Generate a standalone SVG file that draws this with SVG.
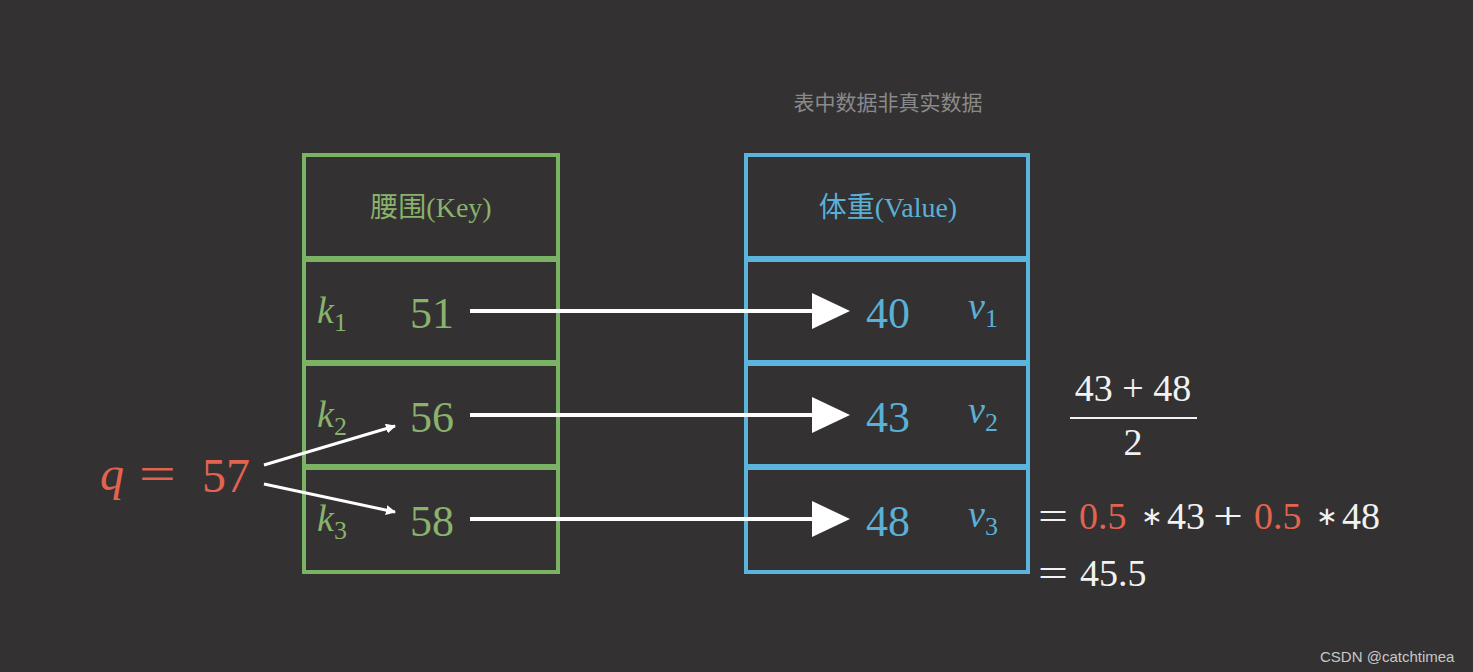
<svg xmlns="http://www.w3.org/2000/svg" width="1473" height="672" viewBox="0 0 1473 672">
<defs>
<style>
.bg{fill:#333132}
.g{fill:none;stroke:#7ab364;stroke-width:4}
.b{fill:none;stroke:#5ab4dc;stroke-width:4}
.t{font-family:"Liberation Serif","Noto Sans CJK SC",serif}
.gt{fill:#8ab26c}
.bt{fill:#5ab0d6}
.w{fill:#f2f2f2}
.r{fill:#e2644f}
.it{font-style:italic}
.big{font-size:44px}
.eq{font-size:38px}
.ast{font-family:"DejaVu Sans",sans-serif;font-size:26px}
.arr{stroke:#ffffff;stroke-width:4;fill:none}
.thin{stroke:#ffffff;stroke-width:3;fill:none}
</style>
<marker id="mh" markerWidth="10" markerHeight="10" refX="9" refY="5" orient="auto" markerUnits="userSpaceOnUse" viewBox="0 0 10 10">
<path d="M0,0 L10,5 L0,10 z" fill="#fff"/>
</marker>
</defs>
<rect class="bg" x="0" y="0" width="1473" height="672"/>
<text class="t" x="888" y="110" font-size="21" fill="#8a8a8a" text-anchor="middle">表中数据非真实数据</text>

<g id="key-table">
<rect class="g" x="304" y="155" width="254" height="103"/>
<rect class="g" x="304" y="260" width="254" height="102"/>
<rect class="g" x="304" y="364" width="254" height="102"/>
<rect class="g" x="304" y="468" width="254" height="104"/>
<text class="t gt" x="431" y="217" font-size="28" text-anchor="middle">腰围(Key)</text>
<text class="t gt it" x="317" y="323" font-size="38">k<tspan font-size="26" font-style="normal" dy="8">1</tspan></text>
<text class="t gt big" x="432" y="328" text-anchor="middle">51</text>
<text class="t gt it" x="317" y="427" font-size="38">k<tspan font-size="26" font-style="normal" dy="8">2</tspan></text>
<text class="t gt big" x="432" y="432" text-anchor="middle">56</text>
<text class="t gt it" x="317" y="531" font-size="38">k<tspan font-size="26" font-style="normal" dy="8">3</tspan></text>
<text class="t gt big" x="432" y="536" text-anchor="middle">58</text>
</g>

<g id="value-table">
<rect class="b" x="746" y="155" width="282" height="103"/>
<rect class="b" x="746" y="260" width="282" height="102"/>
<rect class="b" x="746" y="364" width="282" height="102"/>
<rect class="b" x="746" y="468" width="282" height="104"/>
<text class="t bt" x="888" y="217" font-size="28" text-anchor="middle">体重(Value)</text>
<text class="t bt big" x="888" y="328" text-anchor="middle">40</text>
<text class="t bt it" x="968" y="319" font-size="38">v<tspan font-size="26" font-style="normal" dy="8">1</tspan></text>
<text class="t bt big" x="888" y="432" text-anchor="middle">43</text>
<text class="t bt it" x="968" y="423" font-size="38">v<tspan font-size="26" font-style="normal" dy="8">2</tspan></text>
<text class="t bt big" x="888" y="536" text-anchor="middle">48</text>
<text class="t bt it" x="968" y="527" font-size="38">v<tspan font-size="26" font-style="normal" dy="8">3</tspan></text>
</g>

<g id="query">
<text class="t r it" x="100" y="490" font-size="48">q</text>
<text class="t r" x="139" y="490" font-size="48" textLength="37" lengthAdjust="spacingAndGlyphs">=</text>
<text class="t r" x="202" y="492" font-size="48">57</text>
</g>

<g id="formula">
<text class="t w eq" x="1133" y="401" text-anchor="middle">43 + 48</text>
<line x1="1070" y1="418" x2="1197" y2="418" stroke="#f2f2f2" stroke-width="2"/>
<text class="t w eq" x="1133" y="455" text-anchor="middle">2</text>
<text class="t w eq" x="1038" y="529" textLength="30" lengthAdjust="spacingAndGlyphs">=</text>
<text class="t r eq" x="1079" y="529">0.5</text>
<text class="w ast" x="1141" y="525">∗</text>
<text class="t w eq" x="1167" y="529">43</text>
<text class="t w eq" x="1213" y="529" textLength="30" lengthAdjust="spacingAndGlyphs">+</text>
<text class="t r eq" x="1254" y="529">0.5</text>
<text class="w ast" x="1316" y="525">∗</text>
<text class="t w eq" x="1342" y="529">48</text>
<text class="t w eq" x="1038" y="586" textLength="30" lengthAdjust="spacingAndGlyphs">=</text>
<text class="t w eq" x="1080" y="586">45.5</text>
</g>

<g id="connectors">
<line class="arr" x1="470" y1="311" x2="815" y2="311"/>
<polygon points="812,293 850,311 812,329" fill="#fff"/>
<line class="arr" x1="470" y1="415" x2="815" y2="415"/>
<polygon points="812,397 850,415 812,433" fill="#fff"/>
<line class="arr" x1="470" y1="519" x2="815" y2="519"/>
<polygon points="812,501 850,519 812,537" fill="#fff"/>
<line class="thin" x1="264" y1="465" x2="395" y2="426" marker-end="url(#mh)"/>
<line class="thin" x1="264" y1="484" x2="395" y2="512" marker-end="url(#mh)"/>
</g>

<text x="1320" y="662" font-family="Liberation Sans, sans-serif" font-size="15" fill="#c8c8c8">CSDN @catchtimea</text>
</svg>
